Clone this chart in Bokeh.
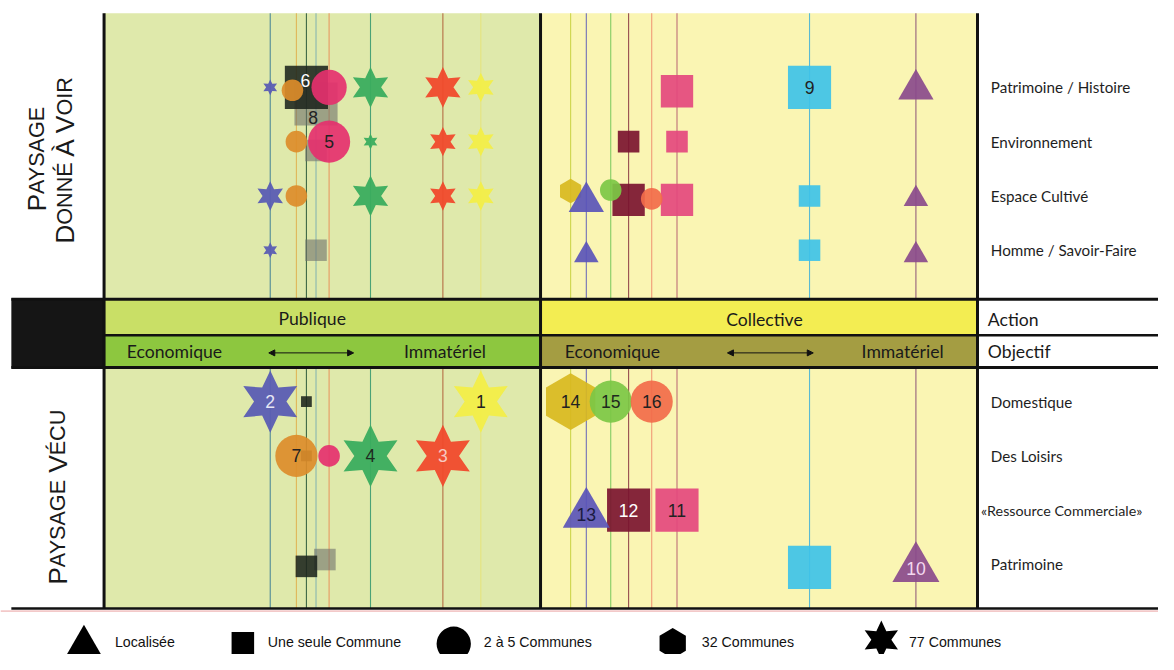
import math
from bokeh.plotting import figure
from bokeh.models import Range1d, Label, Arrow, NormalHead, ColumnDataSource
from bokeh.core.properties import value
from bokeh.embed import file_html
from bokeh.resources import INLINE

# ---------------------------------------------------------------- data
initiative_ids = list(range(1, 17))
action_type = ["Publique"] * 8 + ["Collective"] * 8
# position on the "Economique (0) <-> Immatériel (10)" objective scale
objective_score = [8.63, 3.80, 7.76, 6.10, 5.15, 4.63, 4.40, 4.85,
                   6.17, 8.61, 3.13, 2.02, 1.05, 0.69, 1.61, 2.55]
scale_of_action = ["77 Communes", "77 Communes", "77 Communes", "77 Communes",
                   "2 à 5 Communes", "Une seule Commune", "2 à 5 Communes", "Une seule Commune",
                   "Une seule Commune", "Localisée", "Une seule Commune", "Une seule Commune",
                   "Localisée", "32 Communes", "2 à 5 Communes", "2 à 5 Communes"]

donne_categories = ["Patrimoine / Histoire", "Environnement", "Espace Cultivé", "Homme / Savoir-Faire"]
vecu_categories = ["Domestique", "Des Loisirs", "«Ressource Commerciale»", "Patrimoine"]

# occurrences in "Paysage donné à voir": initiative, category index, intensity (1..4)
donne_id = [2, 7, 8, 6, 5, 4, 3, 1, 11, 9, 10,
            7, 8, 5, 4, 3, 1, 12, 11,
            2, 7, 4, 3, 1, 14, 13, 15, 12, 16, 11, 9, 10,
            2, 8, 13, 9, 10]
donne_cat = [0] * 11 + [1] * 8 + [2] * 13 + [3] * 5
donne_level = [1, 2, 4, 4, 3, 3, 3, 2, 3, 4, 3,
               2, 2, 4, 1, 2, 2, 2, 2,
               2, 2, 3, 2, 2, 2, 3, 2, 3, 2, 3, 2, 2,
               1, 2, 2, 2, 2]

# occurrences in "Paysage vécu"
vecu_id = [2, 6, 1, 14, 15, 16,
           7, 6, 5, 4, 3,
           13, 12, 11,
           8, 6, 9, 10]
vecu_cat = [0] * 6 + [1] * 5 + [2] * 3 + [3] * 4
vecu_level = [4, 1, 4, 4, 4, 4,
              4, 1, 2, 4, 4,
              4, 4, 4,
              2, 2, 4, 4]

legend_labels = ["Localisée", "Une seule Commune", "2 à 5 Communes", "32 Communes", "77 Communes"]

# ---------------------------------------------------------------- style / layout
W, H = 1158, 654
REF_W, REF_H = 1174, 670
PX0, PXU = 105.5, 44.2     # reference pixel of objective 0, pixels per objective unit
PY0, PYU = 89.0, 55.6      # reference pixel of first category row, pixels per row
VECU_OFFSET = 5.79         # row offset of the "vécu" block
K = 0.98                   # global shrink so that the whole sheet fits


def X(px):
    return (px - PX0) / PXU


def Y(py):
    return (py - PY0) / PYU


SX = W / (X(REF_W) - X(0))   # screen px per x unit
SY = H / (Y(REF_H) - Y(0))   # screen px per y unit


def fs(n):
    return f"{n * K:.1f}px"


COLORS = {1: "#f2ee48", 2: "#5a5db3", 3: "#f04a2c", 4: "#3aad5e", 5: "#e5306e",
          6: "#1c241c", 7: "#dc8c2a", 8: "#6f716c", 9: "#3ec2e8", 10: "#8a4a8c",
          11: "#e4487e", 12: "#7b1430", 13: "#5a54b8", 14: "#d8b820", 15: "#7cc745",
          16: "#f26b4a"}
LINE_COLORS = {1: "#e6e27a", 2: "#3f7f95", 3: "#b0603a", 4: "#3a9a70", 5: "#e8905a",
               6: "#2c5a3a", 7: "#e0b050", 8: "#7fb0b0", 9: "#48b4d6", 10: "#8a5078",
               11: "#b86070", 12: "#8a3a44", 13: "#6060b8", 14: "#c8d040", 15: "#74c65a",
               16: "#f09070"}
ALPHA = {6: 0.88, 8: 0.6}
LABEL_COLORS = {1: "#222", 2: "#e6e6f4", 3: "#f6c8c0", 4: "#1e2a1e", 5: "#222", 6: "#ffffff",
                7: "#222", 8: "#222", 9: "#222", 10: "#f4d8f0", 11: "#222", 12: "#ffffff",
                13: "#1a1a40", 14: "#222", 15: "#1e2a1e", 16: "#222"}
MARKER = {"Localisée": "triangle", "Une seule Commune": "square", "2 à 5 Communes": "circle",
          "32 Communes": "hex", "77 Communes": "star6"}
SIZE = {"Une seule Commune": {1: 11, 2: 22, 3: 33, 4: 44},
        "2 à 5 Communes": {2: 22, 3: 36, 4: 43},
        "Localisée": {2: 25, 3: 36, 4: 48},
        "32 Communes": {2: 25, 4: 58},
        "77 Communes": {1: 14, 2: 26, 3: 36, 4: 55}}
# small pixel nudges used in the original drawing to avoid overlaps
NUDGE = {("d", 8, 0): (0, 17), ("d", 8, 1): (0, 9), ("v", 8, 3): (9, -5), ("v", 6, 3): (0, 2),
         ("d", 7, 0): (-4, 3), ("d", 11, 0): (0, 4), ("d", 13, 2): (0, 6), ("d", 14, 2): (0, -5),
         ("d", 15, 2): (0, -6), ("d", 12, 2): (0, 4), ("d", 11, 2): (0, 4), ("d", 16, 2): (0, 3),
         ("d", 13, 3): (0, 5), ("d", 10, 3): (0, 5), ("d", 10, 2): (0, 3), ("d", 10, 0): (0, 2),
         ("v", 13, 2): (0, 4), ("v", 10, 3): (0, 4), ("v", 9, 3): (0, 3)}
LABEL_NUDGE = {6: (-1, -7), 8: (-3, 14)}

FONT_UI = "Lato"
FONT_SANS = "Liberation Sans"

p = figure(width=W, height=H, x_range=Range1d(X(0), X(REF_W)), y_range=Range1d(Y(REF_H), Y(0)),
           output_backend="svg", toolbar_location=None, x_axis_location=None, y_axis_location=None,
           min_border=0, background_fill_color="white", border_fill_color="white")
p.outline_line_color = None
p.xgrid.visible = False
p.ygrid.visible = False

# ---------------------------------------------------------------- panels
GREEN_BG, YELLOW_BG = "#dfe9ab", "#faf5b3"
p.quad(left=[X(105), X(547.5), X(105), X(547.5)], right=[X(547.5), X(990.5), X(547.5), X(990.5)],
       top=[Y(13), Y(13), Y(376), Y(376)], bottom=[Y(305), Y(305), Y(623), Y(623)],
       fill_color=[GREEN_BG, YELLOW_BG, GREEN_BG, YELLOW_BG], line_color=None)

# vertical guide line of every initiative
ux = [s + (10 if a == "Collective" else 0) for s, a in zip(objective_score, action_type)]
p.segment(x0=ux, x1=ux, y0=[Y(13)] * 16, y1=[Y(623)] * 16,
          line_color=[LINE_COLORS[i] for i in initiative_ids], line_width=1.1, line_alpha=0.9)

# header bands
p.quad(left=[X(105), X(547.5), X(105), X(547.5), X(11)],
       right=[X(547.5), X(990.5), X(547.5), X(990.5), X(105)],
       top=[Y(306), Y(306), Y(343), Y(343), Y(305)],
       bottom=[Y(343), Y(343), Y(376), Y(376), Y(377)],
       fill_color=["#c9df66", "#f3ed52", "#8dc73f", "#a49d42", "#151515"], line_color=None)

# frame lines
p.segment(x0=[X(105), X(547.5), X(990.5)], x1=[X(105), X(547.5), X(990.5)],
          y0=[Y(13)] * 3, y1=[Y(623)] * 3, line_color="#111", line_width=3)
p.segment(x0=[X(11), X(105), X(11), X(11)], x1=[X(REF_W)] * 4,
          y0=[Y(306), Y(343), Y(376), Y(623)], y1=[Y(306), Y(343), Y(376), Y(623)],
          line_color="#111", line_width=[3, 2.5, 3, 2.5])
p.segment(x0=[X(0)], x1=[X(REF_W)], y0=[Y(625.5)], y1=[Y(625.5)], line_color="#eaa0a0", line_width=1)

# ---------------------------------------------------------------- markers
occ = []
for block, ids, cats, levels in (("d", donne_id, donne_cat, donne_level),
                                 ("v", vecu_id, vecu_cat, vecu_level)):
    for i, c, l in zip(ids, cats, levels):
        k = i - 1
        dx, dy = NUDGE.get((block, i, c), (0, 0))
        row = c + (VECU_OFFSET if block == "v" else 0)
        occ.append(dict(id=i, block=block, cat=c, level=l,
                        x=ux[k] + dx / PXU, y=row + dy / PYU,
                        scope=scale_of_action[k],
                        size=SIZE[scale_of_action[k]][l] * K,
                        color=COLORS[i], alpha=ALPHA.get(i, 0.92)))


def src(shape, order_key=None):
    items = [o for o in occ if MARKER[o["scope"]] == shape]
    if order_key:
        items.sort(key=order_key)
    return ColumnDataSource({k: [o[k] for o in items] for k in ("x", "y", "size", "color", "alpha")})


def star_outline(cx, cy, size, inner=0.5):
    """six-pointed star around a data point; size = tip-to-tip width in screen px"""
    R = size / math.sqrt(3)
    xs, ys = [], []
    for j in range(12):
        ang = math.pi / 2 + j * math.pi / 6
        rad = R if j % 2 == 0 else R * inner
        xs.append(cx + rad * math.cos(ang) / SX)
        ys.append(cy - rad * math.sin(ang) / SY)
    return xs, ys


p.scatter("x", "y", size="size", marker="hex", angle=math.pi / 2, fill_color="color",
          fill_alpha="alpha", line_color=None, source=src("hex"))
p.scatter("x", "y", size="size", marker="square", fill_color="color", fill_alpha="alpha",
          line_color=None, source=src("square", order_key=lambda o: -o["id"]))
p.scatter("x", "y", size="size", marker="circle", fill_color="color", fill_alpha="alpha",
          line_color=None, source=src("circle"))
p.scatter("x", "y", size="size", marker="triangle", fill_color="color", fill_alpha="alpha",
          line_color=None, source=src("triangle"))
stars = [o for o in occ if MARKER[o["scope"]] == "star6"]
sx_list, sy_list = [], []
for o in stars:
    a, b = star_outline(o["x"], o["y"], o["size"], inner=0.52)
    sx_list.append(a)
    sy_list.append(b)
p.patches(sx_list, sy_list, fill_color=[o["color"] for o in stars], fill_alpha=0.95, line_color=None)

# number of each initiative, on its strongest occurrence
lab = {"x": [], "y": [], "text": [], "color": []}
for i in initiative_ids:
    mine = [o for o in occ if o["id"] == i]
    best = max(mine, key=lambda o: o["level"])
    dx, dy = LABEL_NUDGE.get(i, (0, 0))
    lab["x"].append(best["x"] + dx / PXU)
    lab["y"].append(best["y"] + dy / PYU)
    lab["text"].append(str(i))
    lab["color"].append(LABEL_COLORS[i])
p.text("x", "y", text="text", text_color="color", source=ColumnDataSource(lab),
       text_font=value(FONT_SANS), text_font_size=fs(18), text_align="center",
       text_baseline="middle")

# ---------------------------------------------------------------- category labels (right)
rows_x = [X(1004)] * 8
rows_y = [float(c) for c in range(4)] + [VECU_OFFSET + c for c in range(4)]
rows_x[6] = X(994)
p.text(x=rows_x[:6] + rows_x[7:], y=rows_y[:6] + rows_y[7:],
       text=(donne_categories + vecu_categories)[:6] + vecu_categories[3:],
       text_font=value(FONT_UI), text_font_size=fs(15.5),
       text_align="left", text_baseline="middle", text_color="#1e1e1e")
p.text(x=[rows_x[6]], y=[rows_y[6]], text=[vecu_categories[2]],
       text_font=value(FONT_UI), text_font_size=fs(14.6),
       text_align="left", text_baseline="middle", text_color="#1e1e1e")

# header texts
p.text(x=[X(316), X(774.5), X(1001), X(1001)], y=[Y(326), Y(327), Y(327), Y(360)],
       text=["Publique", "Collective", "Action", "Objectif"],
       text_align=["center", "center", "left", "left"],
       text_font=value(FONT_UI), text_font_size=fs(18), text_baseline="middle", text_color="#1a1a1a")
p.text(x=[X(128), X(409), X(572), X(873)], y=[Y(360)] * 4,
       text=["Economique", "Immatériel", "Economique", "Immatériel"],
       text_font=value(FONT_UI), text_font_size=fs(18), text_align="left", text_baseline="middle",
       text_color="#1a1a1a")
for a, b in ((272, 358), (737, 824)):
    p.add_layout(Arrow(x_start=X(a), y_start=Y(361), x_end=X(b), y_end=Y(361), line_width=1,
                       line_color="#111",
                       start=NormalHead(size=6, fill_color="#111", line_color="#111"),
                       end=NormalHead(size=6, fill_color="#111", line_color="#111")))

# ---------------------------------------------------------------- vertical small-caps titles
ARIAL_W = {"P": 667, "A": 667, "Y": 667, "S": 667, "G": 778, "E": 667, "D": 722, "O": 778,
           "N": 722, "É": 667, "À": 667, "V": 667, "I": 278, "R": 722, "C": 722, "U": 722, " ": 278}


def smallcaps(text, baseline_px, center_py, big=27, small=22):
    segs = []
    for k, word in enumerate(text.split(" ")):
        if k:
            segs.append((" ", small))
        segs.append((word[0], big))
        if len(word) > 1:
            segs.append((word[1:], small))
    widths = [sum(ARIAL_W[ch] for ch in s) / 1000 * sz for s, sz in segs]
    cur = center_py + sum(widths) / 2
    for (s, sz), w in zip(segs, widths):
        if s.strip():
            p.add_layout(Label(x=X(baseline_px), y=Y(cur), text=s, angle=90, angle_units="deg",
                               text_font=FONT_SANS, text_font_size=fs(sz), text_align="left",
                               text_baseline="alphabetic", text_color="#1a1a1a"))
        cur -= w


smallcaps("PAYSAGE", 37, 162)
smallcaps("DONNÉ À VOIR", 65, 164)
smallcaps("PAYSAGE VÉCU", 58, 509)

# ---------------------------------------------------------------- legend
leg_x = [84.6, 245.7, 459.5, 681.5, 893]
leg_y = [661, 658.5, 659, 658.5, 655]
leg_s = [37, 23, 35, 31, 34]
for lbl, lx, ly, ls in zip(legend_labels, leg_x, leg_y, leg_s):
    mk = MARKER[lbl]
    if mk == "star6":
        a, b = star_outline(X(lx), Y(ly), ls * K, inner=0.52)
        p.patch(a, b, fill_color="black", line_color=None)
    else:
        p.scatter([X(lx)], [Y(ly)], size=ls * K, marker=mk, angle=(math.pi / 2 if mk == "hex" else 0),
                  fill_color="black", line_color=None)
p.text(x=[X(v) for v in (116, 271, 490, 711, 921)], y=[Y(657)] * 5, text=legend_labels,
       text_font=value(FONT_SANS), text_font_size=fs(14.5), text_align="left",
       text_baseline="middle", text_color="#111")

open("out.html", "w").write(file_html(p, INLINE))
